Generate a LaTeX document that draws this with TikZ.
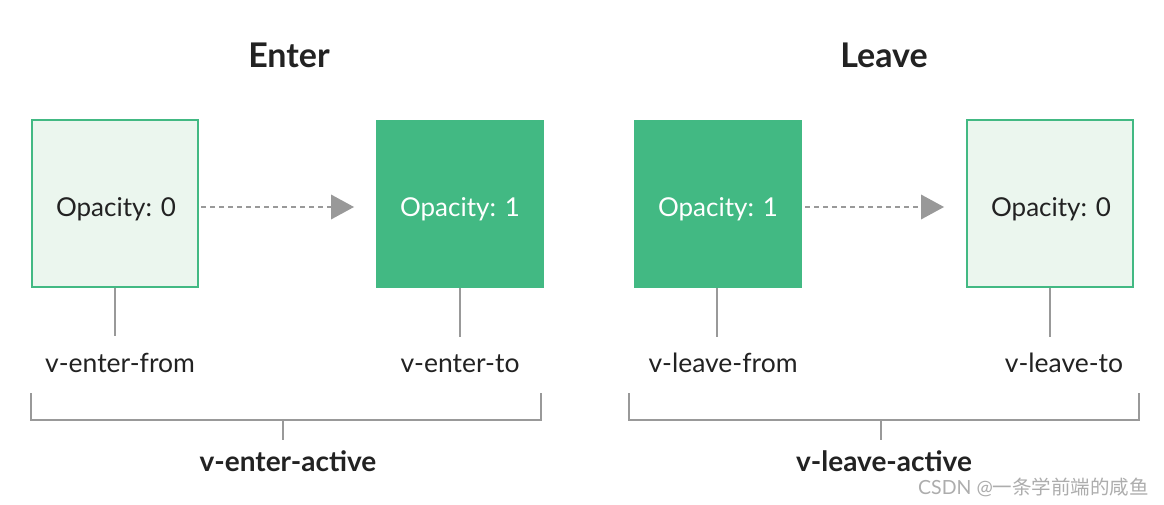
\documentclass[tikz,border=0pt]{standalone}
\usepackage{fontspec}
\setmainfont{Lato}
\newfontfamily\cjkfont{Noto Sans CJK SC}
\usetikzlibrary{arrows.meta}
\definecolor{vgreen}{HTML}{42B983}
\definecolor{vlight}{HTML}{EBF6EE}
\definecolor{vgray}{HTML}{999999}
\definecolor{vtext}{HTML}{222222}
\begin{document}
\begin{tikzpicture}[x=1pt,y=-1pt,
  lightbox/.style={draw=vgreen,line width=2pt,fill=vlight,minimum width=166pt,minimum height=167pt,inner sep=0pt},
  fullbox/.style={fill=vgreen,minimum width=168pt,minimum height=168pt,inner sep=0pt},
  optxt/.style={font=\fontsize{26}{30}\selectfont,inner sep=0pt,anchor=base},
  flow/.style={draw=vgray,line width=2pt,dash pattern=on 5pt off 4pt,-{Triangle[length=23pt,width=25pt,fill=vgray,line width=0pt]}},
  tick/.style={draw=vgray,line width=2pt},
  lbl/.style={text=vtext,font=\fontsize{26.5}{30}\selectfont,inner sep=0pt,anchor=base},
  blbl/.style={text=vtext,font=\fontsize{28}{32}\bfseries,inner sep=0pt,anchor=base},
  title/.style={text=vtext,font=\fontsize{34}{38}\bfseries,inner sep=0pt,anchor=base}]
\useasboundingbox[fill=white] (0,0) rectangle (1164,505);
% titles
\node[title] (tenter) at (289,68) {Enter};
\node[title] (tleave) at (884,68) {Leave};
% boxes
\node[lightbox] (b1) at (115,203.5) {};
\node[fullbox] (b2) at (460,204) {};
\node[fullbox] (b3) at (718,204) {};
\node[lightbox] (b4) at (1050,203.5) {};
\node[optxt,text=vtext] (o1) at (116,216) {Opacity: 0};
\node[optxt,text=white] (o2) at (460,216) {Opacity: 1};
\node[optxt,text=white] (o3) at (718,216) {Opacity: 1};
\node[optxt,text=vtext] (o4) at (1051,216) {Opacity: 0};
% arrows
\coordinate (a1) at (354,207);
\coordinate (a2) at (944,207);
\draw[flow] (b1.east |- a1) ++(2,0) -- (a1);
\draw[flow] (b3.east |- a2) ++(3,0) -- (a2);
% ticks under boxes
\coordinate (t1) at (115,336);
\coordinate (t2) at (460,337);
\coordinate (t3) at (717,337);
\coordinate (t4) at (1050,337);
\draw[tick] (b1.south -| t1) -- (t1);
\draw[tick] (b2.south -| t2) -- (t2);
\draw[tick] (b3.south -| t3) -- (t3);
\draw[tick] (b4.south -| t4) -- (t4);
% labels
\node[lbl] (l1) at (120,372) {v-enter-from};
\node[lbl] (l2) at (460,372) {v-enter-to};
\node[lbl] (l3) at (723,372) {v-leave-from};
\node[lbl] (l4) at (1064,372) {v-leave-to};
% brackets
\coordinate (k1a) at (31,393);
\coordinate (k1b) at (541,393);
\coordinate (k1m) at (283,420);
\coordinate (k1t) at (283,440);
\draw[tick] (k1a) -- (31,420) -- (541,420) -- (k1b);
\draw[tick] (k1m) -- (k1t);
\coordinate (k2a) at (629,393);
\coordinate (k2b) at (1139,393);
\coordinate (k2m) at (881,420);
\coordinate (k2t) at (881,440);
\draw[tick] (k2a) -- (629,420) -- (1139,420) -- (k2b);
\draw[tick] (k2m) -- (k2t);
\node[blbl] (act1) at (288,471) {v-enter-active};
\node[blbl] (act2) at (884,471) {v-leave-active};
% watermark
\node[text=vgray!80,font=\fontsize{19.5}{22}\selectfont,inner sep=0pt,anchor=west] (wm) at (918,487) {CSDN @{\cjkfont 一条学前端的咸鱼}};
\end{tikzpicture}
\end{document}
